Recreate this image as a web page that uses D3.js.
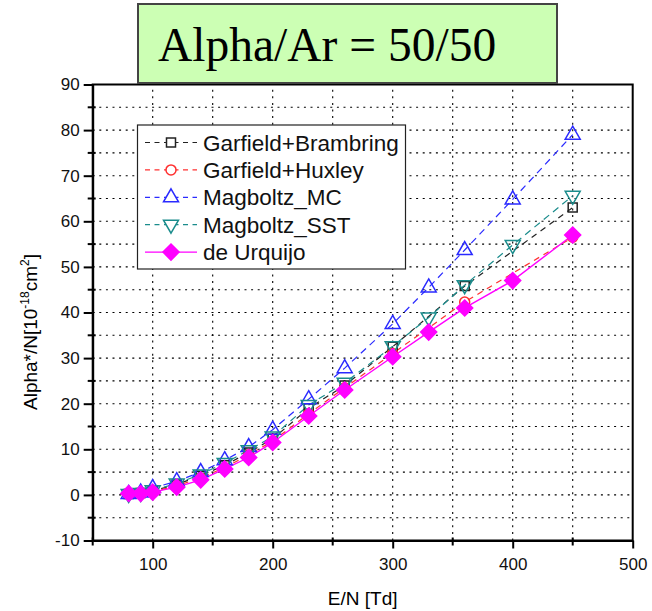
<!DOCTYPE html>
<html>
<head>
<meta charset="utf-8">
<script src="https://cdn.jsdelivr.net/npm/d3@7"></script>
<style>
  body { margin: 0; background: #fff; }
  svg { display: block; }
</style>
</head>
<body>
<svg id="chart" width="652" height="611"></svg>
<script>
// data
const enAll      = [80, 90, 100, 120, 140, 160, 180, 200, 230, 260, 300, 330, 360, 400, 450];
const enGarfield = [80, 90, 100, 120, 140, 160, 180, 200, 230, 260, 300, 360, 450];
const brambring  = [0.2, 0.4, 0.9, 2.3, 4.2, 6.5, 9.3, 12.3, 19.0, 24.0, 32.5, 45.8, 63.0];
const huxley     = [0.2, 0.3, 0.7, 2.0, 3.7, 6.0, 8.8, 11.8, 17.8, 23.5, 31.0, 42.3, 56.5];
const magMC      = [0.2, 0.5, 1.5, 3.0, 5.0, 7.6, 10.5, 14.3, 21.0, 27.8, 37.5, 45.5, 53.7, 64.8, 79.0];
const magSST     = [0.2, 0.4, 1.0, 2.5, 4.5, 7.0, 9.8, 12.8, 19.7, 24.6, 32.6, 38.9, 46.0, 54.8, 65.6];
const urquijo    = [0.3, 0.3, 0.6, 1.7, 3.3, 5.7, 8.2, 11.5, 17.3, 23.0, 30.3, 35.7, 41.0, 47.0, 57.0];

const xTicks = [100, 200, 300, 400, 500];
const yTicks = [-10, 0, 10, 20, 30, 40, 50, 60, 70, 80, 90];

const series = [
  {name: "Garfield+Brambring", x: enGarfield, y: brambring, color: "#222",    shape: "square",   dash: "6,5"},
  {name: "Garfield+Huxley",    x: enGarfield, y: huxley,    color: "#ff3030", shape: "circle",   dash: "6,5"},
  {name: "Magboltz_MC",        x: enAll,      y: magMC,     color: "#2a2aff", shape: "triUp",    dash: "7,5"},
  {name: "Magboltz_SST",       x: enAll,      y: magSST,    color: "#1a8c8c", shape: "triDown",  dash: "7,5"},
  {name: "de Urquijo",         x: enAll,      y: urquijo,   color: "#ff00ff", shape: "diamond",  dash: null}
];

const W = 652, H = 611;
const margin = {top: 84.5, right: 19.3, bottom: 70.5, left: 92.7};

let svg = d3.select("#chart");

let x = d3.scaleLinear().domain([50, 500]).range([margin.left, W - margin.right]);
let y = d3.scaleLinear().domain([-10, 90]).range([H - margin.bottom, margin.top]);

// dotted grid at major+minor ticks
let grid = svg.append("g").attr("stroke", "#000").attr("stroke-width", 1.1).attr("stroke-dasharray", "2,4.6");
d3.range(100, 500, 50).forEach(function(v) {
  grid.append("line").attr("x1", x(v)).attr("x2", x(v)).attr("y1", y(-10)).attr("y2", y(90));
});
d3.range(-5, 90, 5).forEach(function(v) {
  grid.append("line").attr("x1", x(50)).attr("x2", x(500)).attr("y1", y(v)).attr("y2", y(v));
});

// marker paths
function markerPath(shape) {
  if (shape === "square") return "M-4.5,-4.5H4.5V4.5H-4.5Z";
  if (shape === "circle") return "M5,0A5,5 0 1,1 -5,0A5,5 0 1,1 5,0Z";
  if (shape === "triUp") return "M0,-8.5L7.5,4.5H-7.5Z";
  if (shape === "triDown") return "M0,8.5L7.5,-4.5H-7.5Z";
  if (shape === "diamond") return "M0,-8L8,0L0,8L-8,0Z";
}

let line = d3.line().x(function(d) { return x(d[0]); }).y(function(d) { return y(d[1]); });

series.forEach(function(s) {
  let pts = s.x.map(function(v, i) { return [v, s.y[i]]; });
  svg.append("path")
     .attr("d", line(pts))
     .attr("fill", "none")
     .attr("stroke", s.color)
     .attr("stroke-width", s.dash ? 1.2 : 1.4)
     .attr("stroke-dasharray", s.dash);
});

series.forEach(function(s) {
  s.x.forEach(function(v, i) {
    svg.append("path")
       .attr("d", markerPath(s.shape))
       .attr("transform", "translate(" + x(v) + "," + y(s.y[i]) + ")")
       .attr("fill", s.shape === "diamond" ? s.color : "none")
       .attr("stroke", s.color)
       .attr("stroke-width", 1.5);
  });
});

// frame
svg.append("rect")
   .attr("x", x(50)).attr("y", y(90))
   .attr("width", x(500) - x(50)).attr("height", y(-10) - y(90))
   .attr("fill", "none").attr("stroke", "#000").attr("stroke-width", 2);

// axes
let fmt = function(d) { return String(d); };
let xAxis = d3.axisBottom(x).tickValues(xTicks).tickFormat(fmt).tickSize(8).tickSizeOuter(0).tickPadding(9);
let gx = svg.append("g").attr("transform", "translate(0," + y(-10) + ")").call(xAxis);
let yAxis = d3.axisLeft(y).tickValues(yTicks).tickFormat(fmt).tickSize(9).tickSizeOuter(0).tickPadding(4);
let gy = svg.append("g").attr("transform", "translate(" + x(50) + ",0)").call(yAxis);
[gx, gy].forEach(function(g) {
  g.select(".domain").attr("stroke-width", 2);
  g.selectAll(".tick line").attr("stroke-width", 2);
  g.selectAll("text").attr("font-family", "Liberation Sans, Arial, sans-serif").attr("font-size", 17).attr("fill", "#111");
});
// minor ticks crossing the axis
d3.range(50, 500, 100).forEach(function(v) {
  svg.append("line").attr("x1", x(v)).attr("x2", x(v)).attr("y1", y(-10) - 3).attr("y2", y(-10) + 5)
     .attr("stroke", "#000").attr("stroke-width", 2);
});
d3.range(-5, 90, 10).forEach(function(v) {
  svg.append("line").attr("x1", x(50) - 5).attr("x2", x(50) + 3).attr("y1", y(v)).attr("y2", y(v))
     .attr("stroke", "#000").attr("stroke-width", 2);
});

// axis titles
svg.append("text")
   .attr("x", (x(50) + x(500)) / 2).attr("y", 605)
   .attr("text-anchor", "middle")
   .attr("font-family", "Liberation Sans, Arial, sans-serif").attr("font-size", 19)
   .text("E/N [Td]");

let yt = svg.append("text")
   .attr("transform", "translate(37,332) rotate(-90)")
   .attr("text-anchor", "middle")
   .attr("font-family", "Liberation Sans, Arial, sans-serif").attr("font-size", 19);
yt.append("tspan").text("Alpha*/N[10");
yt.append("tspan").attr("dy", -8).attr("font-size", 12).text("-18");
yt.append("tspan").attr("dy", 8).text("cm");
yt.append("tspan").attr("dy", -8).attr("font-size", 12).text("2");
yt.append("tspan").attr("dy", 8).text("]");

// legend
let lg = svg.append("g");
lg.append("rect").attr("x", 137.5).attr("y", 125).attr("width", 268).attr("height", 144)
  .attr("fill", "#fff").attr("stroke", "#222").attr("stroke-width", 1.2);
series.forEach(function(s, i) {
  let cy = 142.5 + i * 27.4;
  lg.append("line").attr("x1", 145).attr("x2", 197).attr("y1", cy).attr("y2", cy)
    .attr("stroke", s.color).attr("stroke-width", s.dash ? 1.2 : 1.4).attr("stroke-dasharray", s.dash ? "5,4.5" : null);
  lg.append("path").attr("d", markerPath(s.shape))
    .attr("transform", "translate(171," + cy + ")")
    .attr("fill", s.shape === "diamond" ? s.color : "#fff")
    .attr("stroke", s.color).attr("stroke-width", 1.5);
  lg.append("text").attr("x", 203).attr("y", cy).attr("dy", "0.36em")
    .attr("font-family", "Liberation Sans, Arial, sans-serif").attr("font-size", 22.5)
    .attr("fill", "#111")
    .text(s.name);
});

// title box
svg.append("rect").attr("x", 138).attr("y", 4).attr("width", 419).attr("height", 79)
   .attr("fill", "#ccffb4").attr("stroke", "#444").attr("stroke-width", 2);
svg.append("text").attr("x", 158).attr("y", 61)
   .attr("font-family", "Liberation Serif, Times New Roman, serif").attr("font-size", 47.5)
   .attr("fill", "#000")
   .text("Alpha/Ar = 50/50");
</script>
</body>
</html>
